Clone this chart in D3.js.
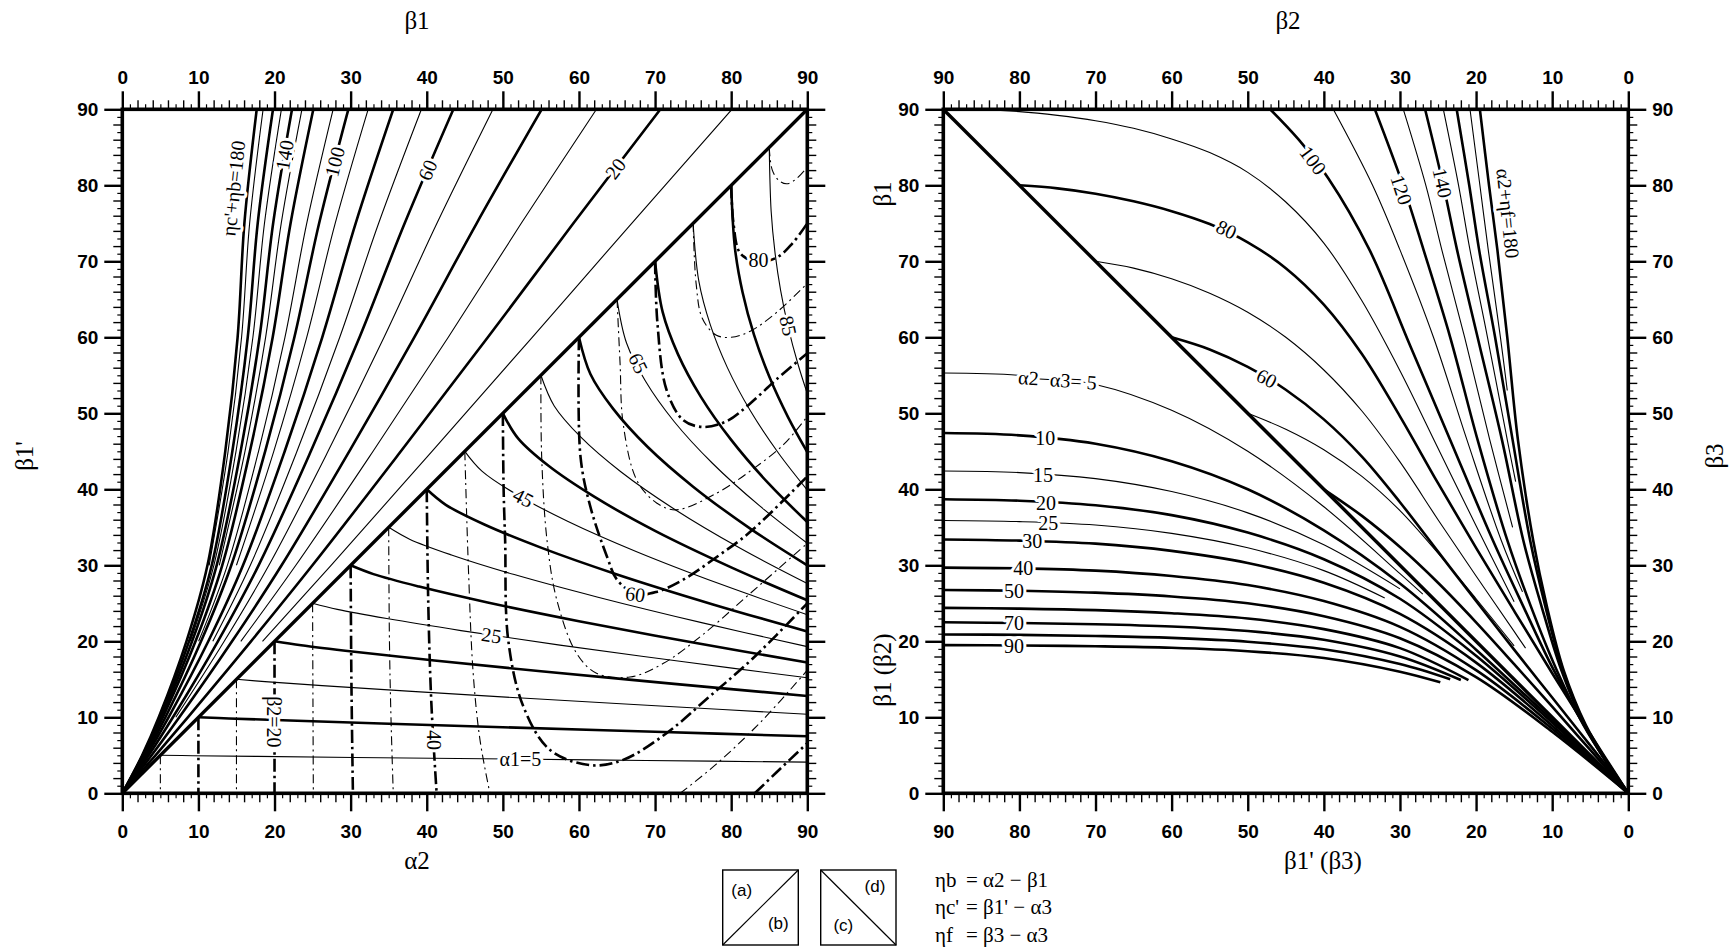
<!DOCTYPE html>
<html>
<head>
<meta charset="utf-8">
<script src="https://cdn.jsdelivr.net/npm/d3@7"></script>
<style>
  body { margin: 0; background: #fff; }
  .tick text { font-family: "Liberation Sans", Arial, sans-serif; font-weight: bold; font-size: 19px; fill: #000; }
  .clabel { font-family: "Liberation Serif", "Times New Roman", serif; font-size: 20px; fill: #000;
            paint-order: stroke; stroke: #fff; stroke-width: 6px; stroke-linejoin: round; }
  .title { font-family: "Liberation Serif", "Times New Roman", serif; font-size: 25px; fill: #000; }
  .legend { font-family: "Liberation Serif", "Times New Roman", serif; font-size: 21px; fill: #000; }
  .box { font-family: "Liberation Sans", Arial, sans-serif; font-size: 17px; fill: #000; }
</style>
</head>
<body>
<svg id="chart" width="1736" height="950"></svg>
<script>
// ---- data (x, y in degrees) ----
const majorTicks = [0, 10, 20, 30, 40, 50, 60, 70, 80, 90];

// left panel, upper triangle (a): etac' + etab
const sumLevelsL = [10, 20, 30, 40, 50, 60, 70, 80, 90, 100, 110, 120, 130, 140, 150, 160, 170, 180];
const sumCurvesL = [
  [[18.42,20],[27.43,30],[40.69,45],[53.86,60],[66.93,75],[80.1,90]],
  [[0,0],[4.36,5],[8.61,10],[16.91,20],[24.98,30],[36.60,45],[48.03,60],[59.27,75],[70.7,90]],
  [[15.57,20],[22.80,30],[32.95,45],[42.83,60],[52.42,75],[62.3,90]],
  [[0,0],[3.85,5],[7.49,10],[14.42,20],[20.93,30],[29.82,45],[38.36,60],[46.56,75],[55.1,90]],
  [[7.03,10],[13.39,20],[19.26,30],[27.03,45],[34.39,60],[41.34,75],[48.7,90]],
  [[0,0],[3.47,5],[6.65,10],[12.56,20],[17.91,30],[24.77,45],[31.17,60],[37.10,75],[43.5,90]],
  [[11.89,20],[16.82,30],[22.95,45],[28.57,60],[33.68,75],[39.3,90]],
  [[0,0],[3.20,5],[6.08,10],[11.30,20],[15.86,30],[21.34,45],[26.27,60],[30.66,75],[35.6,90]],
  [[15.0,30],[19.90,45],[24.23,60],[27.97,75],[32.3,90]],
  [[0,0],[3.01,5],[5.66,10],[10.35,20],[14.32,30],[18.77,45],[22.61,60],[25.86,75],[29.7,90]],
  [[10.03,20],[13.80,30],[17.90,45],[21.37,60],[24.23,75],[27.7,90]],
  [[0,0],[2.86,5],[5.33,10],[9.62,20],[13.13,30],[16.77,45],[19.76,60],[22.11,75],[25.1,90]],
  [[12.74,30],[16.12,45],[18.83,60],[20.88,75],[23.6,90]],
  [[0,0],[2.77,5],[5.13,10],[9.17,20],[12.40,30],[15.55,45],[18.03,60],[19.82,75],[22.3,90]],
  [[8.94,20],[12.03,30],[14.94,45],[17.16,60],[18.68,75],[20.9,90]],
  [[0,0],[2.68,5],[4.95,10],[8.77,20],[11.75,30],[14.46,45],[16.48,60],[17.79,75],[19.8,90]],
  [[11.41,30],[13.90,45],[15.67,60],[16.73,75],[18.5,90]],
  [[0,0],[2.61,5],[4.79,10],[8.43,20],[11.19,30],[13.53,45],[15.15,60],[16.04,75],[17.66,90]]
];

// left panel, lower triangle (b): alpha1 (solid)
const alpha1Levels = [5, 10, 15, 20, 25, 30, 35, 40, 45, 50, 55, 60, 65, 70, 75, 80, 85];
const alpha1Curves = [
  [[5,5],[9.25,4.95],[17.75,4.86],[30.5,4.72],[47.5,4.54],[68.75,4.32],[90,4.1]],
  [[10,10],[14,9.85],[22,9.58],[34,9.19],[50,8.69],[70,8.09],[90,7.5]],
  [[15,15],[18.75,14.69],[26.25,14.17],[37.5,13.45],[52.5,12.53],[71.25,11.45],[90,10.4]],
  [[20,20],[23.5,19.47],[30.5,18.62],[41,17.47],[55,16.06],[72.5,14.40],[90,12.8]],
  [[25,25],[28.25,24.20],[34.75,22.99],[44.5,21.41],[57.5,19.50],[73.75,17.30],[90,15.2]],
  [[30,30],[33,28.84],[39,27.20],[48,25.11],[60,22.65],[75,19.84],[90,17.2]],
  [[35,35],[37.75,33.44],[43.25,31.36],[51.5,28.78],[62.5,25.80],[76.25,22.42],[90,19.3]],
  [[40,40],[42.5,37.96],[47.5,35.40],[55,32.33],[65,28.80],[77.5,24.89],[90,21.3]],
  [[45,45],[47.25,42.40],[51.75,39.35],[58.5,35.80],[67.5,31.82],[78.75,27.46],[90,23.5]],
  [[50,50],[52,46.70],[56,43.09],[62,39.03],[70,34.53],[80,29.73],[90,25.4]],
  [[55,55],[56.75,50.97],[60.25,46.86],[65.5,42.31],[72.5,37.41],[81.25,32.20],[90,27.6]],
  [[60,60],[61.5,55.17],[64.5,50.58],[69,45.6],[75,40.35],[82.5,34.83],[90,30]],
  [[65,65],[66.25,59.25],[68.75,54.21],[72.5,48.92],[77.5,43.46],[83.75,37.81],[90,32.9]],
  [[70,70],[71,63.31],[73,57.79],[76,52.20],[80,46.50],[85,40.67],[90,35.7]],
  [[75,75],[75.75,67.38],[77.25,61.66],[79.5,56.01],[82.5,50.36],[86.25,44.71],[90,39.9]],
  [[80,80],[80.5,71.68],[81.5,65.89],[83,60.31],[85,54.83],[87.5,49.43],[90,44.9]],
  [[85,85],[85.25,76.58],[85.75,71.20],[86.5,66.14],[87.5,61.28],[88.75,56.55],[90,52.6]]
];

// left panel, lower triangle (b): beta2 (dash-dot)
const beta2Levels = [5, 10, 15, 20, 25, 30, 35, 40, 45, 50, 55, 60, 65, 70, 75, 80, 85];
const beta2Curves = [
  [[5,5],[5,0]],
  [[10,10],[10,0]],
  [[15,15],[15,0]],
  [[20,20],[20,0]],
  [[25,25],[25.05,12],[25.1,0]],
  [[30,30],[30.1,15],[30.3,0]],
  [[35,35],[35.1,20],[35.3,10],[35.6,0]],
  [[40,40],[40.2,25],[40.6,12],[41.3,0]],
  [[45,45],[45.5,28.9],[46.1,15.8],[47,7],[48.3,0]],
  [[50,50],[50.1,40],[50.3,33.3],[50.7,20.2],[52.7,11.4],[56.2,5.7],[61.5,3.7],[65.8,4.4],[71.5,7.9],[77,12.6],[82.9,17.8],[90,25.0]],
  [[55,55],[55.1,44.3],[55.8,33.3],[57.1,25.4],[59.7,18.4],[62.3,15.8],[66.7,15.3],[71.1,17.1],[76.3,20.9],[82.5,26.3],[90,32.9]],
  [[60,60],[60.2,44.3],[61.5,37.7],[63.7,31.1],[65,28.1],[67.5,26.2],[70.2,26.5],[73.7,28.1],[78.1,31.1],[82.5,34.4],[90,41.7]],
  [[65,65],[65.4,56.6],[65.8,48.7],[67.6,41.2],[70.2,38.2],[72.8,37.3],[78.1,39.5],[82.5,42.4],[86.9,45.9],[90,49.6]],
  [[70,70],[70.3,62],[71.5,53.1],[73.7,49.1],[76.3,48.2],[79.5,49.0],[82.5,51.3],[86,54.5],[90,57.9]],
  [[75,75],[75.4,67],[76.2,62.5],[78,60.3],[80,60.0],[82.5,60.8],[86,63.3],[90,67.1]],
  [[80,80],[80.3,75],[81.2,71.05],[83.5,69.9],[86,70.5],[88,72.3],[90,75]],
  [[85,85],[85.4,82],[86.3,80.6],[87.3,80.2],[88.5,80.8],[90,82.4]]
];
// parts of beta2 = 40 and 45 that come back in through the bottom edge
const beta2TailLevels = [40, 45];
const beta2Tails = [
  [[83.1,0],[86,2.8],[90,6.6]],
  [[73.3,0],[78,3.8],[84,9.5],[90,16.2]]
];

// right panel, upper triangle (d): alpha2 + etaf
const sumLevelsR = [40, 50, 60, 70, 80, 90, 100, 110, 120, 130, 140, 150, 160, 170, 180];
const sumCurvesR = [
  [[40,40],[35,36.5],[30,32.4],[25,27.7],[20,22.5],[15,17.0],[10,11.4],[5,5.7],[0,0]],
  [[50,50],[45,47.9],[40,45.2],[35,41.7],[30,37.2],[25,31.6],[20,25.6],[15,19.4]],
  [[60,60],[55,58.4],[50,56.1],[45,53.1],[40,49.2],[35,44.3],[30,38.3],[25,31.8],[20,25.3],[15,18.9],[10,12.6],[5,6.3],[0,0]],
  [[70,70],[65,69.1],[60,67.7],[55,65.8],[50,63.3],[45,60.0],[40,55.7],[35,50.3],[30,43.6],[25,36.0],[20,28.6],[15,21.3],[13.5,19.1]],
  [[80,80],[75,79.6],[70,78.9],[65,77.9],[60,76.6],[55,74.9],[50,72.5],[45,69.1],[40,64.3],[35,57.8],[30,49.6],[25,40.8],[20,32.3],[15,24.0],[10,15.8],[5,7.8],[0,0]],
  [[90,90],[85,89.95],[80,89.7],[75,89.2],[70,88.5],[65,87.5],[60,86.1],[55,84.3],[50,81.7],[45,77.8],[40,72.4],[35,64.8],[30,55.6],[25,45.4],[20,35.2],[15,25.2]],
  [[47.05,90],[43.3,86],[39.4,80.9],[34,71.5],[28.7,59.0],[23.4,46.5],[17.8,33.3],[13.8,24.6],[10.0,16.6],[6.3,9.8],[3.0,4.5],[0,0]],
  [[38.76,90],[33.6,80],[30.0,71.5],[25.6,60],[21.2,46.5],[16.7,33.3],[13.9,26.5]],
  [[33.3,90],[29.6,80],[26.9,71.5],[23.4,60],[19.8,46.5],[15.9,33.3],[12.8,24.6],[9.4,16.2],[5.9,9.0],[2.8,4.0],[0,0]],
  [[29.56,90],[26.6,80],[24.5,71.5],[21.5,60],[18.2,46.5],[15.2,35]],
  [[26.7,90],[24.3,80],[22.5,71.5],[19.8,60],[16.6,46.5],[13.8,33.3],[11.4,24.6],[8.8,16.2],[5.8,9.0],[2.8,4.0],[0,0]],
  [[24.3,90],[22.3,80],[20.8,71.5],[18.5,60],[15.9,46.5],[14.8,41]],
  [[22.55,90],[20.9,80],[19.6,71.5],[17.5,60],[15.2,46.5],[12.9,33.3],[10.9,24.6],[8.6,16.2],[5.7,9.0],[2.8,4.0],[0,0]],
  [[20.8,90],[19.5,80],[18.4,71.5],[16.8,60],[15.9,53]],
  [[19.5,90],[18.3,80],[17.2,71.5],[15.9,60],[14.5,46.5],[12.5,33.3],[10.7,24.6],[8.5,16.2],[5.6,9.0],[2.7,4.0],[0,0]]
];

// right panel, lower triangle (c): alpha2 - alpha3
const diffLevels = [5, 10, 15, 20, 25, 30, 40, 50, 60, 70, 80, 90];
const diffThin = [5, 15, 25];
const diffCurves = [
  [[90,55.3],[80,55.0],[70,53.8],[60,50.4],[50,45.0],[40,37.7],[30,28.9],[27,26.2]],
  [[90,47.4],[80,47.1],[70,46.0],[60,43.7],[50,40.0],[40,34.6],[30,27.6],[20,18.9],[10,9.6],[0,0]],
  [[90,42.4],[80,42.2],[70,41.4],[60,39.7],[50,36.9],[40,32.7],[30,26.9]],
  [[90,38.7],[80,38.5],[70,37.9],[60,36.6],[50,34.3],[40,30.8],[30,25.6],[20,18.1],[10,9.3],[0,0]],
  [[90,35.9],[80,35.75],[70,35.3],[60,34.2],[50,32.3],[40,29.3],[32,25.7]],
  [[90,33.4],[80,33.25],[70,32.85],[60,31.9],[50,30.3],[40,27.7],[30,23.6],[20,17.2],[10,8.9],[0,0]],
  [[90,29.7],[80,29.6],[70,29.3],[60,28.6],[50,27.4],[40,25.3],[30,21.9],[20,16.2],[10,8.5],[0,0]],
  [[90,26.75],[80,26.65],[70,26.4],[60,25.9],[50,25.0],[40,23.3],[30,20.4],[20,15.3],[10,8.1],[0,0]],
  [[90,24.4],[80,24.3],[70,24.1],[60,23.7],[50,23.0],[40,21.6],[30,19.1],[21,14.9]],
  [[90,22.5],[80,22.4],[70,22.25],[60,21.95],[50,21.35],[40,20.2],[30,18.0],[22,14.9]],
  [[90,20.9],[80,20.85],[70,20.7],[60,20.45],[50,19.95],[40,18.95],[30,17.0],[23.4,15.0]],
  [[90,19.5],[80,19.45],[70,19.35],[60,19.15],[50,18.7],[40,17.8],[30,16.0],[24.7,14.6]]
];

// curve labels: [x, y, text, rotation]
const labelsL = [
  [14.6, 79.6, "\u03b7c'+\u03b7b=180", -84],
  [21.3, 84.0, "140", -80],
  [27.9, 83.1, "100", -76],
  [40.1, 82.0, "60", -67],
  [64.8, 82.2, "20", -53],
  [52.3, 4.45, "\u03b11=5", 0],
  [48.5, 20.8, "25", 8],
  [52.7, 38.9, "45", 28],
  [67.8, 56.6, "65", 64],
  [87.5, 61.5, "85", 78],
  [19.9, 9.4, "\u03b22=20", 90],
  [40.9, 7.0, "40", 90],
  [67.4, 26.2, "60", 8],
  [83.6, 70.2, "80", 0]
];
const labelsR = [
  [41.4, 83.3, "100", 53],
  [29.8, 79.4, "120", 72],
  [24.4, 80.3, "140", 78],
  [15.8, 76.3, "\u03b12+\u03b7f=180", 84],
  [52.8, 74.2, "80", 25],
  [47.5, 54.6, "60", 27],
  [75.0, 54.4, "\u03b12\u2212\u03b13= 5", 4],
  [76.6, 46.7, "10", 0],
  [76.9, 41.9, "15", 0],
  [76.5, 38.2, "20", 0],
  [76.2, 35.6, "25", 0],
  [78.3, 33.2, "30", 0],
  [79.5, 29.6, "40", 0],
  [80.7, 26.6, "50", 0],
  [80.7, 22.4, "70", 0],
  [80.7, 19.4, "90", 0]
];

// ---- drawing ----
const svg = d3.select("#chart");
const yS = d3.scaleLinear().domain([0, 90]).range([793.3, 109.3]);
const xL = d3.scaleLinear().domain([0, 90]).range([122.3, 807.3]);
const xR = d3.scaleLinear().domain([90, 0]).range([943.3, 1628.3]);

const THICK = 2.6, THIN = 1.1;

function panel(id, xs) {
  const [x0, x1] = xs.range();
  svg.append("clipPath").attr("id", id)
    .append("rect").attr("x", x0).attr("y", yS(90)).attr("width", x1 - x0).attr("height", yS(0) - yS(90));
  return svg.append("g").attr("clip-path", `url(#${id})`);
}

function drawCurves(g, xs, curves, widthOf, dashOf) {
  const line = d3.line().x(d => xs(d[0])).y(d => yS(d[1])).curve(d3.curveCatmullRom.alpha(0.5));
  g.selectAll(null).data(curves).enter().append("path")
    .attr("d", d => line(d.pts))
    .attr("fill", "none")
    .attr("stroke", "#000")
    .attr("stroke-width", d => widthOf(d.level))
    .attr("stroke-dasharray", d => dashOf ? dashOf(d.level) : null)
    .attr("stroke-linecap", "butt");
}

const zipc = (levels, pts) => levels.map((l, i) => ({ level: l, pts: pts[i] }));

// left panel
const gL = panel("clipL", xL);
drawCurves(gL, xL, zipc(sumLevelsL, sumCurvesL), l => l % 20 === 0 ? THICK : THIN);
drawCurves(gL, xL, zipc(alpha1Levels, alpha1Curves), l => l % 10 === 0 ? THICK : THIN);
const dashOf = l => l % 10 === 0 ? "13,4,2.5,4" : "9,4,2,4";
drawCurves(gL, xL, zipc(beta2Levels, beta2Curves), l => l % 10 === 0 ? THICK : THIN, dashOf);
drawCurves(gL, xL, zipc(beta2TailLevels, beta2Tails), l => l % 10 === 0 ? THICK : THIN, dashOf);
gL.append("line").attr("x1", xL(0)).attr("y1", yS(0)).attr("x2", xL(90)).attr("y2", yS(90))
  .attr("stroke", "#000").attr("stroke-width", 3.4);

// right panel
const gR = panel("clipR", xR);
drawCurves(gR, xR, zipc(sumLevelsR, sumCurvesR), l => l % 20 === 0 ? THICK : THIN);
drawCurves(gR, xR, zipc(diffLevels, diffCurves), l => diffThin.includes(l) ? THIN : THICK);
gR.append("line").attr("x1", xR(90)).attr("y1", yS(90)).attr("x2", xR(0)).attr("y2", yS(0))
  .attr("stroke", "#000").attr("stroke-width", 3.4);

function drawLabels(xs, labels) {
  svg.append("g").selectAll(null).data(labels).enter().append("text")
    .attr("class", "clabel")
    .attr("transform", d => `translate(${xs(d[0])},${yS(d[1])}) rotate(${d[3]})`)
    .attr("text-anchor", "middle")
    .attr("dominant-baseline", "central")
    .text(d => d[2]);
}
drawLabels(xL, labelsL);
drawLabels(xR, labelsR);

// frames and axes
const minorEven = d3.range(2, 90, 2).filter(v => v % 10 !== 0);
const minorOdd = d3.range(1, 90, 2);

function axes(xs, leftLabels, rightLabels) {
  const [x0, x1] = xs.range();
  const specs = [
    { fn: d3.axisBottom, sc: xs, tr: `translate(0,${yS(0)})`, lab: true, pad: 13 },
    { fn: d3.axisTop, sc: xs, tr: `translate(0,${yS(90)})`, lab: true, pad: 7 },
    { fn: d3.axisLeft, sc: yS, tr: `translate(${x0},0)`, lab: leftLabels, pad: 6 },
    { fn: d3.axisRight, sc: yS, tr: `translate(${x1},0)`, lab: rightLabels, pad: 6 }
  ];
  specs.forEach(s => {
    [[majorTicks, 18, 2.4, s.lab], [minorEven, 9, 1.4, false], [minorOdd, 5, 1.2, false]].forEach(([vals, size, w, lab]) => {
      const g = svg.append("g").attr("transform", s.tr)
        .call(s.fn(s.sc).tickValues(vals).tickSize(size).tickSizeOuter(0).tickPadding(s.pad)
          .tickFormat(lab ? d3.format("d") : ""));
      g.attr("font-size", null).attr("font-family", null);
      g.select(".domain").remove();
      g.selectAll(".tick line").attr("stroke-width", w);
    });
  });
  svg.append("rect").attr("x", x0).attr("y", yS(90)).attr("width", x1 - x0).attr("height", yS(0) - yS(90))
    .attr("fill", "none").attr("stroke", "#000").attr("stroke-width", 3.6);
}
axes(xL, true, false);
axes(xR, true, true);

// axis titles
const titles = [
  [417, 20, "\u03b21", 0],
  [417, 860, "\u03b12", 0],
  [24, 456, "\u03b21'", -90],
  [1288, 20, "\u03b22", 0],
  [1323, 860, "\u03b21' (\u03b23)", 0],
  [882, 194, "\u03b21", -90],
  [882, 670, "\u03b21 (\u03b22)", -90],
  [1714, 456, "\u03b23", -90]
];
svg.append("g").selectAll(null).data(titles).enter().append("text")
  .attr("class", "title")
  .attr("transform", d => `translate(${d[0]},${d[1]}) rotate(${d[3]})`)
  .attr("text-anchor", "middle")
  .attr("dominant-baseline", "central")
  .text(d => d[2]);

// key boxes and definitions
const lg = svg.append("g");
lg.append("rect").attr("x", 722.7).attr("y", 870).attr("width", 75.6).attr("height", 75)
  .attr("fill", "none").attr("stroke", "#000").attr("stroke-width", 1.4);
lg.append("line").attr("x1", 722.7).attr("y1", 945).attr("x2", 798.3).attr("y2", 870)
  .attr("stroke", "#000").attr("stroke-width", 1.2);
lg.append("rect").attr("x", 820.7).attr("y", 870).attr("width", 75.3).attr("height", 75)
  .attr("fill", "none").attr("stroke", "#000").attr("stroke-width", 1.4);
lg.append("line").attr("x1", 820.7).attr("y1", 870).attr("x2", 896).attr("y2", 945)
  .attr("stroke", "#000").attr("stroke-width", 1.2);
[[741.7, 890, "(a)"], [778.3, 923.3, "(b)"], [875, 886.7, "(d)"], [843.3, 925, "(c)"]].forEach(([x, y, t]) => {
  lg.append("text").attr("class", "box").attr("x", x).attr("y", y)
    .attr("text-anchor", "middle").attr("dominant-baseline", "central").text(t);
});
[[880, "\u03b7b", "= \u03b12 \u2212 \u03b21"], [907, "\u03b7c'", "= \u03b21' \u2212 \u03b13"], [935, "\u03b7f", "= \u03b23 \u2212 \u03b13"]]
  .forEach(([y, a, b]) => {
    lg.append("text").attr("class", "legend").attr("x", 935).attr("y", y).attr("dominant-baseline", "central").text(a);
    lg.append("text").attr("class", "legend").attr("x", 966).attr("y", y).attr("dominant-baseline", "central").text(b);
  });
</script>
</body>
</html>
